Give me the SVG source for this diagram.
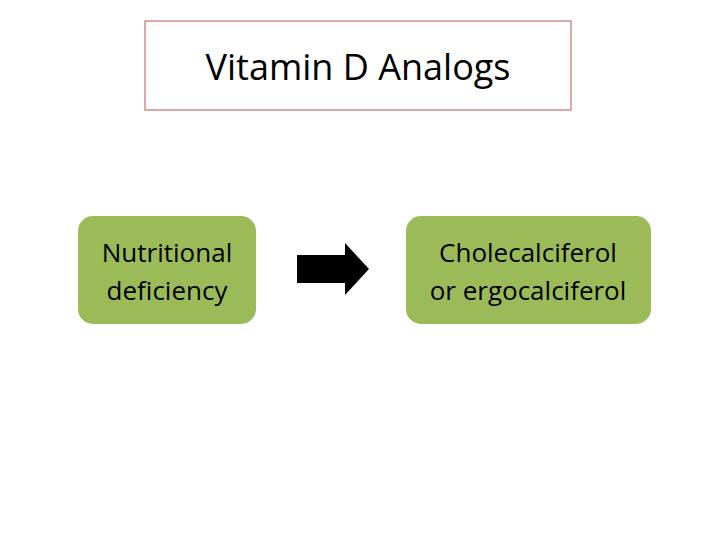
<svg xmlns="http://www.w3.org/2000/svg" width="720" height="540" viewBox="0 0 720 540">
<style>
.t{font-family:"Open Sans","Liberation Sans",sans-serif;font-size:26px;fill:#000;text-anchor:middle}
.n{fill:#9bbb59;stroke:#fff;stroke-width:2}
</style>
<rect width="720" height="540" fill="#fff"/>
<g id="title"><rect x="145" y="21" width="426" height="89" fill="#fff" stroke="#c0504d" stroke-width="1"/>
<text x="358" y="80" class="t" style="font-size:36px">Vitamin D Analogs</text></g>
<g id="n1"><rect class="n" x="77" y="215" width="180" height="110" rx="16"/>
<text x="167" y="262" class="t">Nutritional</text><text x="167" y="300" class="t">deficiency</text></g>
<g id="n2"><rect class="n" x="405" y="215" width="247" height="110" rx="16"/>
<text x="528" y="262" class="t">Cholecalciferol</text><text x="528" y="300" class="t">or ergocalciferol</text></g>
<g id="connectors"><polygon points="297,255 345,255 345,243 369,269 345,295 345,283 297,283" fill="#000"/></g>
</svg>
